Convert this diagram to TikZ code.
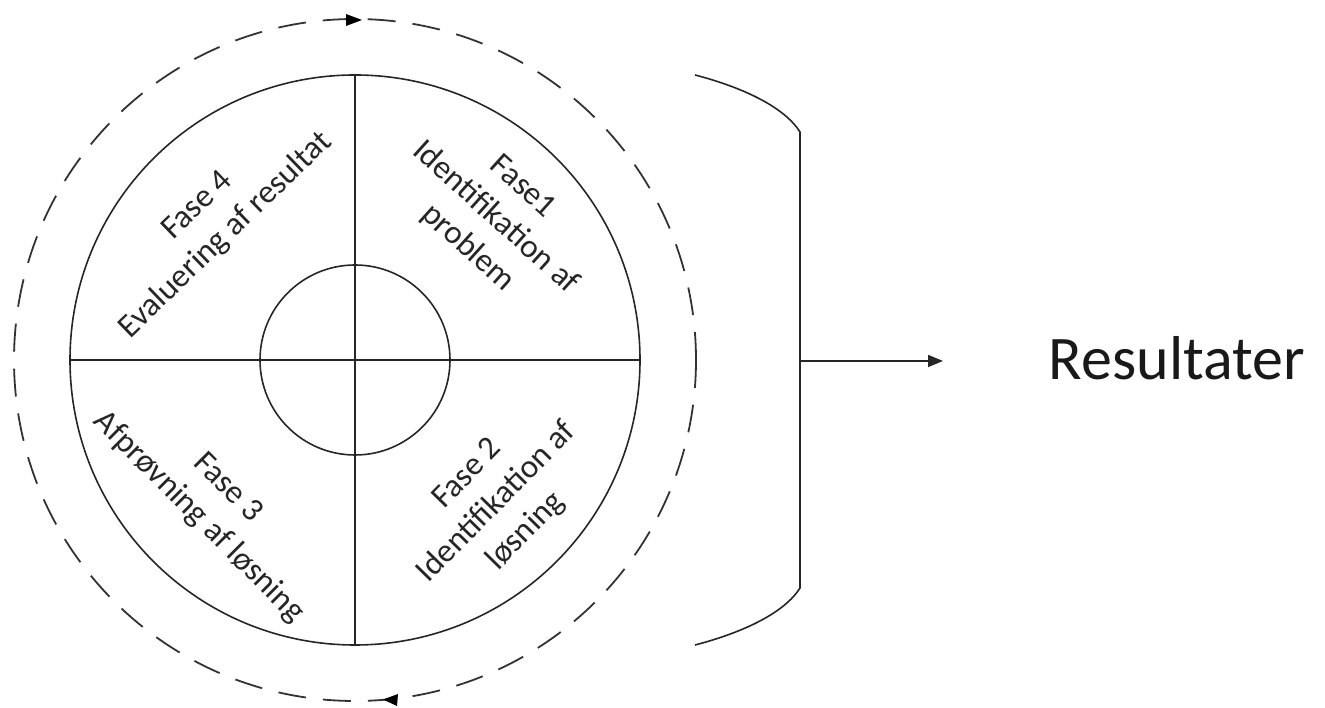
\documentclass[tikz,border=0pt]{standalone}
\usepackage{fontspec}
\setmainfont{Carlito}
\usetikzlibrary{arrows.meta}
\begin{document}
\begin{tikzpicture}[x=1pt,y=1pt,
  ln/.style={line width=1.6pt,black!85},
  dsh/.style={line width=1.8pt,black!80,dash pattern=on 28pt off 17pt},
  fase/.style={inner sep=0pt,align=center,font=\fontsize{33}{41}\selectfont,text=black!85},
  tip/.style={-{Triangle[length=15pt,width=12pt]}}]
\useasboundingbox (0,0) rectangle (1325,708);
\coordinate (C) at (355,348);
% dashed outer circle
\draw[dsh] (C) circle[radius=341];
\fill[black] (346,694) -- (362,688) -- (346,682) -- cycle;
\fill[black] (398,14) -- (383,8.5) -- (397,2) -- cycle;
% main circle and cross
\draw[ln] (C) circle[radius=285];
\draw[ln] (C) circle[radius=95];
\coordinate (L) at (70,348);
\coordinate (R) at (640,348);
\coordinate (T) at (355,633);
\coordinate (B) at (355,63);
\draw[ln] (L) -- (R);
\draw[ln] (T) -- (B);
% labels
\node[fase,rotate=-42] (f1) at (495,490) {Fase1\\Identifikation af\\problem};
\node[fase,rotate=45.6] (f2) at (497,205) {Fase 2\\Identifikation af\\løsning};
\node[fase,rotate=-45] (f3) at (213,205) {Fase 3\\Afprøvning af løsning};
\node[fase,rotate=44] (f4) at (212,487) {Fase 4\\Evaluering af resultat};
% bracket
\coordinate (bt) at (695,633);
\coordinate (bt2) at (800,576);
\coordinate (bb2) at (800,120);
\coordinate (bb) at (695,63);
\coordinate (bm) at (800,347);
\draw[ln] (bt) .. controls (745,620) and (785,600) .. (bt2) -- (bb2) .. controls (785,96) and (745,76) .. (bb);
% result
\node[inner sep=0pt,anchor=base,font=\fontsize{62}{70}\selectfont,text=black!90] (res) at (1177,328) {Resultater};
\coordinate (at) at (943,347);
\draw[ln,tip] (bm) -- (at);
\end{tikzpicture}
\end{document}
